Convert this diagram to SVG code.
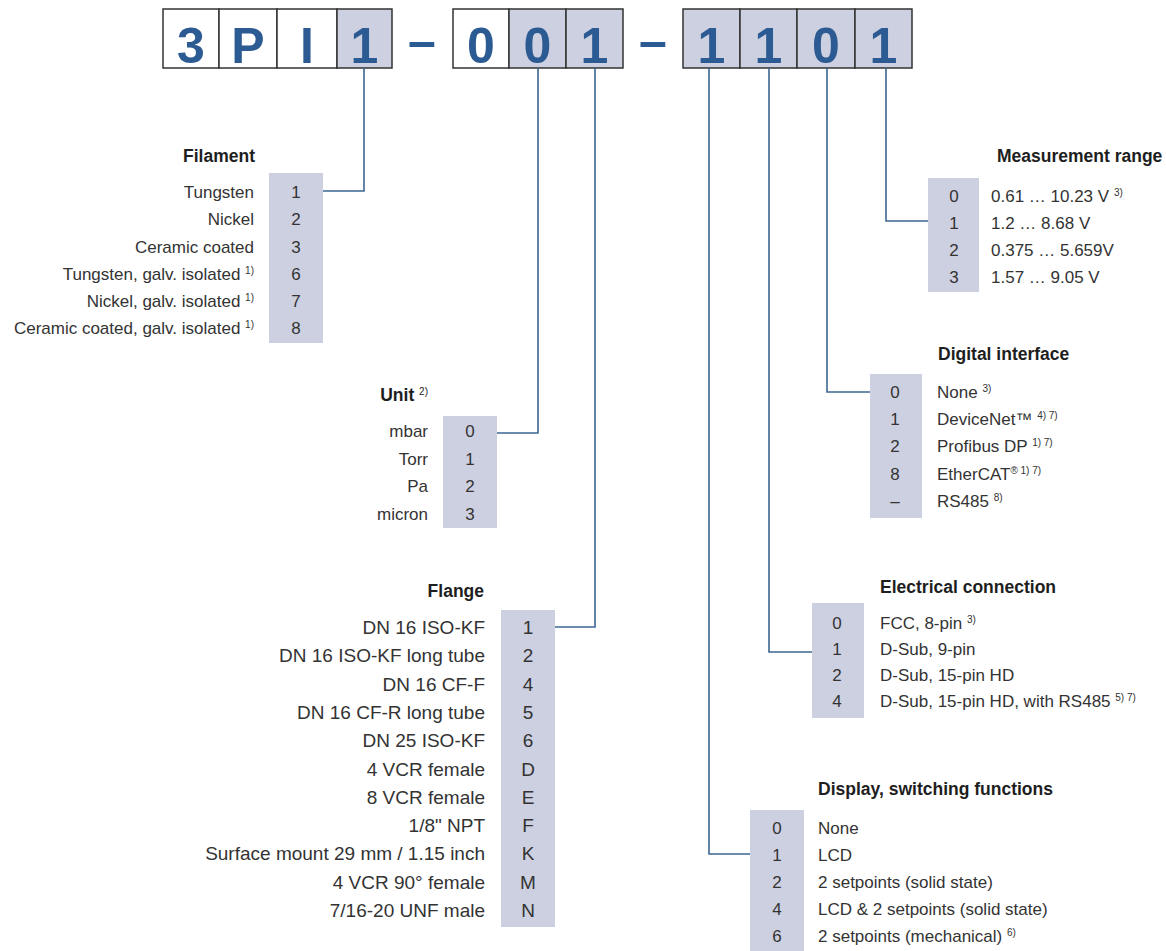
<svg xmlns="http://www.w3.org/2000/svg" width="1166" height="951" viewBox="0 0 1166 951">
<style>
.g{fill:#cdd0e0}
.w{fill:#fff}
.cell{stroke:#333;stroke-width:1.5}
.code{font-family:"Liberation Sans",Arial,sans-serif;font-weight:bold;font-size:50px;fill:#2c5a92;text-anchor:middle}
.t{font-family:"Liberation Sans",Arial,sans-serif;font-size:17px;fill:#333}
.f{font-size:19px}
.h{font-family:"Liberation Sans",Arial,sans-serif;font-size:17.5px;font-weight:bold;fill:#1e1e1e}
.r{text-anchor:end}
.c{text-anchor:middle}
.s{font-size:10px}
.conn{fill:none;stroke:#3d6592;stroke-width:1.6}
</style>
<rect width="1166" height="951" fill="#fff"/>

<g id="code">
  <rect class="cell w" x="163" y="9" width="56" height="59"/>
  <rect class="cell w" x="219" y="9" width="58" height="59"/>
  <rect class="cell w" x="277" y="9" width="60" height="59"/>
  <rect class="cell g" x="337" y="9" width="55" height="59"/>
  <rect class="cell w" x="453" y="9" width="56" height="59"/>
  <rect class="cell g" x="509" y="9" width="57" height="59"/>
  <rect class="cell g" x="566" y="9" width="57" height="59"/>
  <rect class="cell g" x="683" y="9" width="57" height="59"/>
  <rect class="cell g" x="740" y="9" width="57" height="59"/>
  <rect class="cell g" x="797" y="9" width="58" height="59"/>
  <rect class="cell g" x="855" y="9" width="57" height="59"/>
  <text class="code" x="191" y="63">3</text>
  <text class="code" x="248" y="63">P</text>
  <text class="code" x="307" y="63">I</text>
  <text class="code" x="364.5" y="63">1</text>
  <text class="code" x="422" y="58">–</text>
  <text class="code" x="481" y="63">0</text>
  <text class="code" x="537.5" y="63">0</text>
  <text class="code" x="594.5" y="63">1</text>
  <text class="code" x="653" y="58">–</text>
  <text class="code" x="711.5" y="63">1</text>
  <text class="code" x="768.5" y="63">1</text>
  <text class="code" x="826" y="63">0</text>
  <text class="code" x="883.5" y="63">1</text>
</g>

<g id="connectors">
  <path class="conn" d="M364,68 V191 H323"/>
  <path class="conn" d="M538,68 V433 H497"/>
  <path class="conn" d="M595,68 V627 H555"/>
  <path class="conn" d="M709,68 V854 H750"/>
  <path class="conn" d="M769,68 V652 H812"/>
  <path class="conn" d="M827,68 V392 H870"/>
  <path class="conn" d="M886,68 V221 H928"/>
</g>

<g id="filament">
  <rect class="g" x="269" y="173" width="54" height="170"/>
  <text class="h r" x="255" y="162">Filament</text>
  <text class="t r" x="254" y="198">Tungsten</text>
  <text class="t r" x="254" y="225">Nickel</text>
  <text class="t r" x="254" y="252.5">Ceramic coated</text>
  <text class="t r" x="254" y="279.5">Tungsten, galv. isolated <tspan class="s" dy="-6">1)</tspan></text>
  <text class="t r" x="254" y="307">Nickel, galv. isolated <tspan class="s" dy="-6">1)</tspan></text>
  <text class="t r" x="254" y="334">Ceramic coated, galv. isolated <tspan class="s" dy="-6">1)</tspan></text>
  <text class="t c" x="296" y="198">1</text>
  <text class="t c" x="296" y="225">2</text>
  <text class="t c" x="296" y="252.5">3</text>
  <text class="t c" x="296" y="279.5">6</text>
  <text class="t c" x="296" y="307">7</text>
  <text class="t c" x="296" y="334">8</text>
</g>

<g id="unit">
  <rect class="g" x="443" y="416" width="54" height="112"/>
  <text class="h r" x="428" y="401">Unit <tspan class="s" font-weight="normal" dy="-6">2)</tspan></text>
  <text class="t r" x="428" y="437">mbar</text>
  <text class="t r" x="428" y="464.5">Torr</text>
  <text class="t r" x="428" y="492">Pa</text>
  <text class="t r" x="428" y="519.5">micron</text>
  <text class="t c" x="470" y="437">0</text>
  <text class="t c" x="470" y="464.5">1</text>
  <text class="t c" x="470" y="492">2</text>
  <text class="t c" x="470" y="519.5">3</text>
</g>

<g id="flange">
  <rect class="g" x="501" y="610" width="54" height="317"/>
  <text class="h r" x="484" y="597">Flange</text>
  <text class="t f r" x="485" y="634">DN 16 ISO-KF</text>
  <text class="t f r" x="485" y="662.3">DN 16 ISO-KF long tube</text>
  <text class="t f r" x="485" y="690.6">DN 16 CF-F</text>
  <text class="t f r" x="485" y="718.9">DN 16 CF-R long tube</text>
  <text class="t f r" x="485" y="747.2">DN 25 ISO-KF</text>
  <text class="t f r" x="485" y="775.5">4 VCR female</text>
  <text class="t f r" x="485" y="803.8">8 VCR female</text>
  <text class="t f r" x="485" y="832.1">1/8" NPT</text>
  <text class="t f r" x="485" y="860.4">Surface mount 29 mm / 1.15 inch</text>
  <text class="t f r" x="485" y="888.7">4 VCR 90° female</text>
  <text class="t f r" x="485" y="917">7/16-20 UNF male</text>
  <text class="t f c" x="528" y="634">1</text>
  <text class="t f c" x="528" y="662.3">2</text>
  <text class="t f c" x="528" y="690.6">4</text>
  <text class="t f c" x="528" y="718.9">5</text>
  <text class="t f c" x="528" y="747.2">6</text>
  <text class="t f c" x="528" y="775.5">D</text>
  <text class="t f c" x="528" y="803.8">E</text>
  <text class="t f c" x="528" y="832.1">F</text>
  <text class="t f c" x="528" y="860.4">K</text>
  <text class="t f c" x="528" y="888.7">M</text>
  <text class="t f c" x="528" y="917">N</text>
</g>

<g id="measurement-range">
  <rect class="g" x="928" y="178" width="51" height="114"/>
  <text class="h" x="997" y="162">Measurement range</text>
  <text class="t" x="991" y="202">0.61 … 10.23 V <tspan class="s" dy="-6">3)</tspan></text>
  <text class="t" x="991" y="229">1.2 … 8.68 V</text>
  <text class="t" x="991" y="256">0.375 … 5.659V</text>
  <text class="t" x="991" y="283">1.57 … 9.05 V</text>
  <text class="t c" x="954" y="202">0</text>
  <text class="t c" x="954" y="229">1</text>
  <text class="t c" x="954" y="256">2</text>
  <text class="t c" x="954" y="283">3</text>
</g>

<g id="digital-interface">
  <rect class="g" x="870" y="374" width="52" height="144"/>
  <text class="h" x="938" y="360">Digital interface</text>
  <text class="t" x="937" y="398">None <tspan class="s" dy="-6">3)</tspan></text>
  <text class="t" x="937" y="425">DeviceNet™ <tspan class="s" dy="-6">4) 7)</tspan></text>
  <text class="t" x="937" y="452">Profibus DP <tspan class="s" dy="-6">1) 7)</tspan></text>
  <text class="t" x="937" y="480">EtherCAT<tspan class="s" dy="-6">® 1) 7)</tspan></text>
  <text class="t" x="937" y="507">RS485 <tspan class="s" dy="-6">8)</tspan></text>
  <text class="t c" x="895" y="398">0</text>
  <text class="t c" x="895" y="425">1</text>
  <text class="t c" x="895" y="452">2</text>
  <text class="t c" x="895" y="480">8</text>
  <text class="t c" x="895" y="507">–</text>
</g>

<g id="electrical-connection">
  <rect class="g" x="812" y="603" width="52" height="115"/>
  <text class="h" x="880" y="593">Electrical connection</text>
  <text class="t" x="880" y="629">FCC, 8-pin <tspan class="s" dy="-6">3)</tspan></text>
  <text class="t" x="880" y="655">D-Sub, 9-pin</text>
  <text class="t" x="880" y="681">D-Sub, 15-pin HD</text>
  <text class="t" x="880" y="707">D-Sub, 15-pin HD, with RS485 <tspan class="s" dy="-6">5) 7)</tspan></text>
  <text class="t c" x="837" y="629">0</text>
  <text class="t c" x="837" y="655">1</text>
  <text class="t c" x="837" y="681">2</text>
  <text class="t c" x="837" y="707">4</text>
</g>

<g id="display">
  <rect class="g" x="750" y="810" width="54" height="141"/>
  <text class="h" x="818" y="795">Display, switching functions</text>
  <text class="t" x="818" y="834">None</text>
  <text class="t" x="818" y="861">LCD</text>
  <text class="t" x="818" y="888">2 setpoints (solid state)</text>
  <text class="t" x="818" y="915">LCD &amp; 2 setpoints (solid state)</text>
  <text class="t" x="818" y="942">2 setpoints (mechanical) <tspan class="s" dy="-6">6)</tspan></text>
  <text class="t c" x="777" y="834">0</text>
  <text class="t c" x="777" y="861">1</text>
  <text class="t c" x="777" y="888">2</text>
  <text class="t c" x="777" y="915">4</text>
  <text class="t c" x="777" y="942">6</text>
</g>
</svg>
